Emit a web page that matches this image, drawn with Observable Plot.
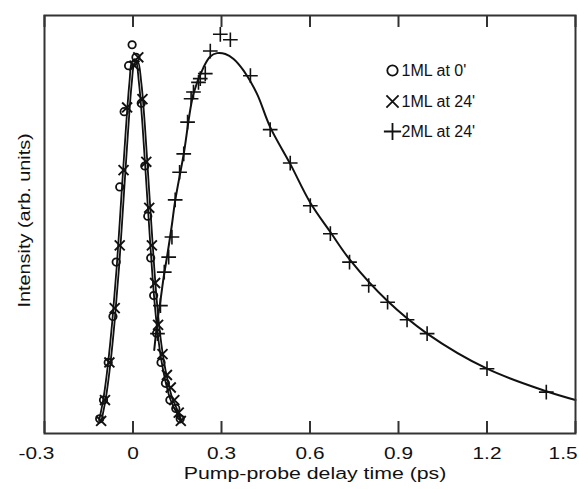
<!DOCTYPE html>
<html>
<head>
<meta charset="utf-8">
<script src="https://cdn.jsdelivr.net/npm/d3@7"></script>
<script src="https://cdn.jsdelivr.net/npm/@observablehq/plot@0.6"></script>
<style>
  html, body { margin: 0; padding: 0; background: #fff; }
  #chart { width: 579px; height: 489px; overflow: hidden; }
  svg text { font-family: "Liberation Sans", Arial, Helvetica, sans-serif; }
</style>
</head>
<body>
<div id="chart"></div>
<script>
// ---- Data (intensity in arbitrary units, 0..1) ----
const xTicks = [-0.3, 0, 0.3, 0.6, 0.9, 1.2, 1.5];
const xTickLabels = ["-0.3", "0", "0.3", "0.6", "0.9", "1.2", "1.5"];

// 1ML at 0' (circles)
const t1ML0 = [-0.113, -0.100, -0.084, -0.068, -0.057, -0.045, -0.030, -0.015, -0.003, 0.010, 0.028, 0.040, 0.050, 0.060, 0.070, 0.080, 0.095, 0.110, 0.125, 0.145, 0.160];
const v1ML0 = [0.035, 0.080, 0.170, 0.280, 0.410, 0.590, 0.770, 0.880, 0.930, 0.900, 0.790, 0.640, 0.520, 0.420, 0.330, 0.240, 0.170, 0.120, 0.080, 0.060, 0.035];

// 1ML at 24' (crosses)
const t1ML24 = [-0.108, -0.095, -0.080, -0.062, -0.045, -0.032, -0.020, 0.005, 0.018, 0.032, 0.045, 0.055, 0.064, 0.075, 0.085, 0.100, 0.115, 0.128, 0.140, 0.155, 0.162];
const v1ML24 = [0.030, 0.080, 0.170, 0.300, 0.450, 0.630, 0.780, 0.880, 0.900, 0.800, 0.650, 0.540, 0.450, 0.360, 0.260, 0.190, 0.140, 0.110, 0.080, 0.050, 0.030];

// 2ML at 24' (plus)
const t2ML24 = [0.083, 0.093, 0.106, 0.121, 0.132, 0.143, 0.158, 0.172, 0.185, 0.197, 0.205, 0.222, 0.228, 0.245, 0.262, 0.296, 0.330, 0.398, 0.465, 0.533, 0.601, 0.669, 0.734, 0.799, 0.863, 0.929, 0.997, 1.200, 1.401];
const v2ML24 = [0.239, 0.306, 0.386, 0.422, 0.470, 0.559, 0.625, 0.669, 0.745, 0.801, 0.817, 0.840, 0.849, 0.861, 0.915, 0.955, 0.942, 0.856, 0.727, 0.647, 0.545, 0.478, 0.410, 0.354, 0.314, 0.272, 0.239, 0.155, 0.099];

// Fit curves
const tFit1ML0 = [-0.115, -0.100, -0.085, -0.070, -0.055, -0.040, -0.025, -0.012, -0.003, 0.008, 0.020, 0.032, 0.045, 0.058, 0.070, 0.082, 0.095, 0.110, 0.125, 0.140, 0.160];
const vFit1ML0 = [0.030, 0.085, 0.165, 0.270, 0.400, 0.560, 0.720, 0.840, 0.890, 0.895, 0.840, 0.740, 0.600, 0.460, 0.340, 0.250, 0.180, 0.125, 0.085, 0.060, 0.035];
const tFit1ML24 = [-0.107, -0.092, -0.077, -0.062, -0.047, -0.032, -0.017, -0.004, 0.005, 0.016, 0.028, 0.040, 0.053, 0.066, 0.078, 0.090, 0.103, 0.118, 0.133, 0.148, 0.165];
const vFit1ML24 = [0.030, 0.085, 0.165, 0.270, 0.400, 0.560, 0.720, 0.840, 0.885, 0.890, 0.840, 0.740, 0.600, 0.460, 0.340, 0.250, 0.180, 0.125, 0.085, 0.060, 0.030];
const tFit2ML = [0.072, 0.083, 0.093, 0.104, 0.117, 0.132, 0.143, 0.172, 0.205, 0.239, 0.262, 0.285, 0.313, 0.341, 0.375, 0.420, 0.465, 0.533, 0.601, 0.669, 0.737, 0.861, 0.997, 1.200, 1.401, 1.500];
const vFit2ML = [0.200, 0.270, 0.318, 0.374, 0.430, 0.500, 0.557, 0.669, 0.813, 0.876, 0.902, 0.910, 0.908, 0.896, 0.868, 0.813, 0.733, 0.645, 0.552, 0.482, 0.414, 0.318, 0.239, 0.155, 0.101, 0.080];

const legendLabels = ["1ML at 0'", "1ML at 24'", "2ML at 24'"];
const legendSymbols = ["circle", "times", "plus"];
const xLabel = "Pump-probe delay time (ps)";
const yLabel = "Intensity (arb. units)";

// ---- Build tables ----
const zip = (ts, vs) => ts.map((t, i) => ({t, v: vs[i]}));
const pts0 = zip(t1ML0, v1ML0);
const pts24 = zip(t1ML24, v1ML24);
const pts2 = zip(t2ML24, v2ML24);
const fit0 = zip(tFit1ML0, vFit1ML0);
const fit24 = zip(tFit1ML24, vFit1ML24);
const fit2 = zip(tFit2ML, vFit2ML);
const ticks = xTicks.map((x, i) => ({x, label: xTickLabels[i]}));
const n = ticks.length;

const ink = "#111";
const legendRowDy = [55, 86, 116];

const legendMarks = legendLabels.flatMap((lab, i) => [
  Plot.dot([lab], {frameAnchor: "top-left", dx: 348, dy: legendRowDy[i], symbol: () => legendSymbols[i],
    r: i === 0 ? 5.2 : 5.6, stroke: ink, strokeWidth: 1.8, fill: "none"}),
  Plot.text([lab], {frameAnchor: "top-left", dx: 357, dy: legendRowDy[i], text: d => d,
    textAnchor: "start", lineAnchor: "middle", fontSize: 16, fill: ink})
]);

const tickLabelOpts = {x: "x", text: "label", frameAnchor: "bottom", dy: 25, lineAnchor: "bottom", fontSize: 16, fill: ink};

const chart = Plot.plot({
  width: 579,
  height: 489,
  marginLeft: 44,
  marginRight: 4,
  marginTop: 15,
  marginBottom: 56,
  style: {fontFamily: "'Liberation Sans', Arial, Helvetica, sans-serif", background: "#fff", overflow: "visible"},
  x: {domain: [-0.3, 1.5], axis: null},
  y: {domain: [0, 1], axis: null},
  marks: [
    // fits
    Plot.line(fit0, {x: "t", y: "v", stroke: ink, strokeWidth: 1.8, curve: "catmull-rom"}),
    Plot.line(fit24, {x: "t", y: "v", stroke: ink, strokeWidth: 1.8, curve: "catmull-rom"}),
    Plot.line(fit2, {x: "t", y: "v", stroke: ink, strokeWidth: 2, curve: "catmull-rom"}),
    // data
    Plot.dot(pts0, {x: "t", y: "v", symbol: "circle", r: 3.7, stroke: ink, strokeWidth: 1.8, fill: "none"}),
    Plot.dot(pts24, {x: "t", y: "v", symbol: "times", r: 4.6, stroke: ink, strokeWidth: 1.9}),
    Plot.dot(pts2, {x: "t", y: "v", symbol: "plus", r: 4.8, stroke: ink, strokeWidth: 1.6}),
    // frame + inward ticks
    Plot.frame({stroke: "#333", strokeWidth: 2}),
    Plot.tickX(ticks, {x: "x", insetTop: 406, stroke: "#333", strokeWidth: 2}),
    Plot.tickX(ticks, {x: "x", insetBottom: 406, stroke: "#333", strokeWidth: 2}),
    // tick labels
    Plot.text(ticks.slice(0, 1), {...tickLabelOpts, dx: -8}),
    Plot.text(ticks.slice(1, n - 1), tickLabelOpts),
    Plot.text(ticks.slice(n - 1), {...tickLabelOpts, textAnchor: "end", dx: 2}),
    // axis labels
    Plot.text([xLabel], {frameAnchor: "bottom", dx: 5, dy: 45, lineAnchor: "bottom",
      text: d => d, fontSize: 16, fill: ink}),
    Plot.text([yLabel], {frameAnchor: "bottom-left", dx: -20, dy: -126, rotate: -90, textAnchor: "start",
      lineAnchor: "middle", text: d => d, fontSize: 16, fill: ink}),
    ...legendMarks
  ]
});

document.getElementById("chart").appendChild(chart);

// Horizontally widen the axis text to match the reference's wide lettering
const factors = new Map([...xTickLabels.map(s => [s, 1.3]), [xLabel, 1.33], [yLabel, 1.24]]);
chart.querySelectorAll("text").forEach(el => {
  const f = factors.get(el.textContent);
  if (!f) return;
  const len = el.getComputedTextLength();
  el.setAttribute("textLength", (len * f).toFixed(1));
  el.setAttribute("lengthAdjust", "spacingAndGlyphs");
});
</script>
</body>
</html>
